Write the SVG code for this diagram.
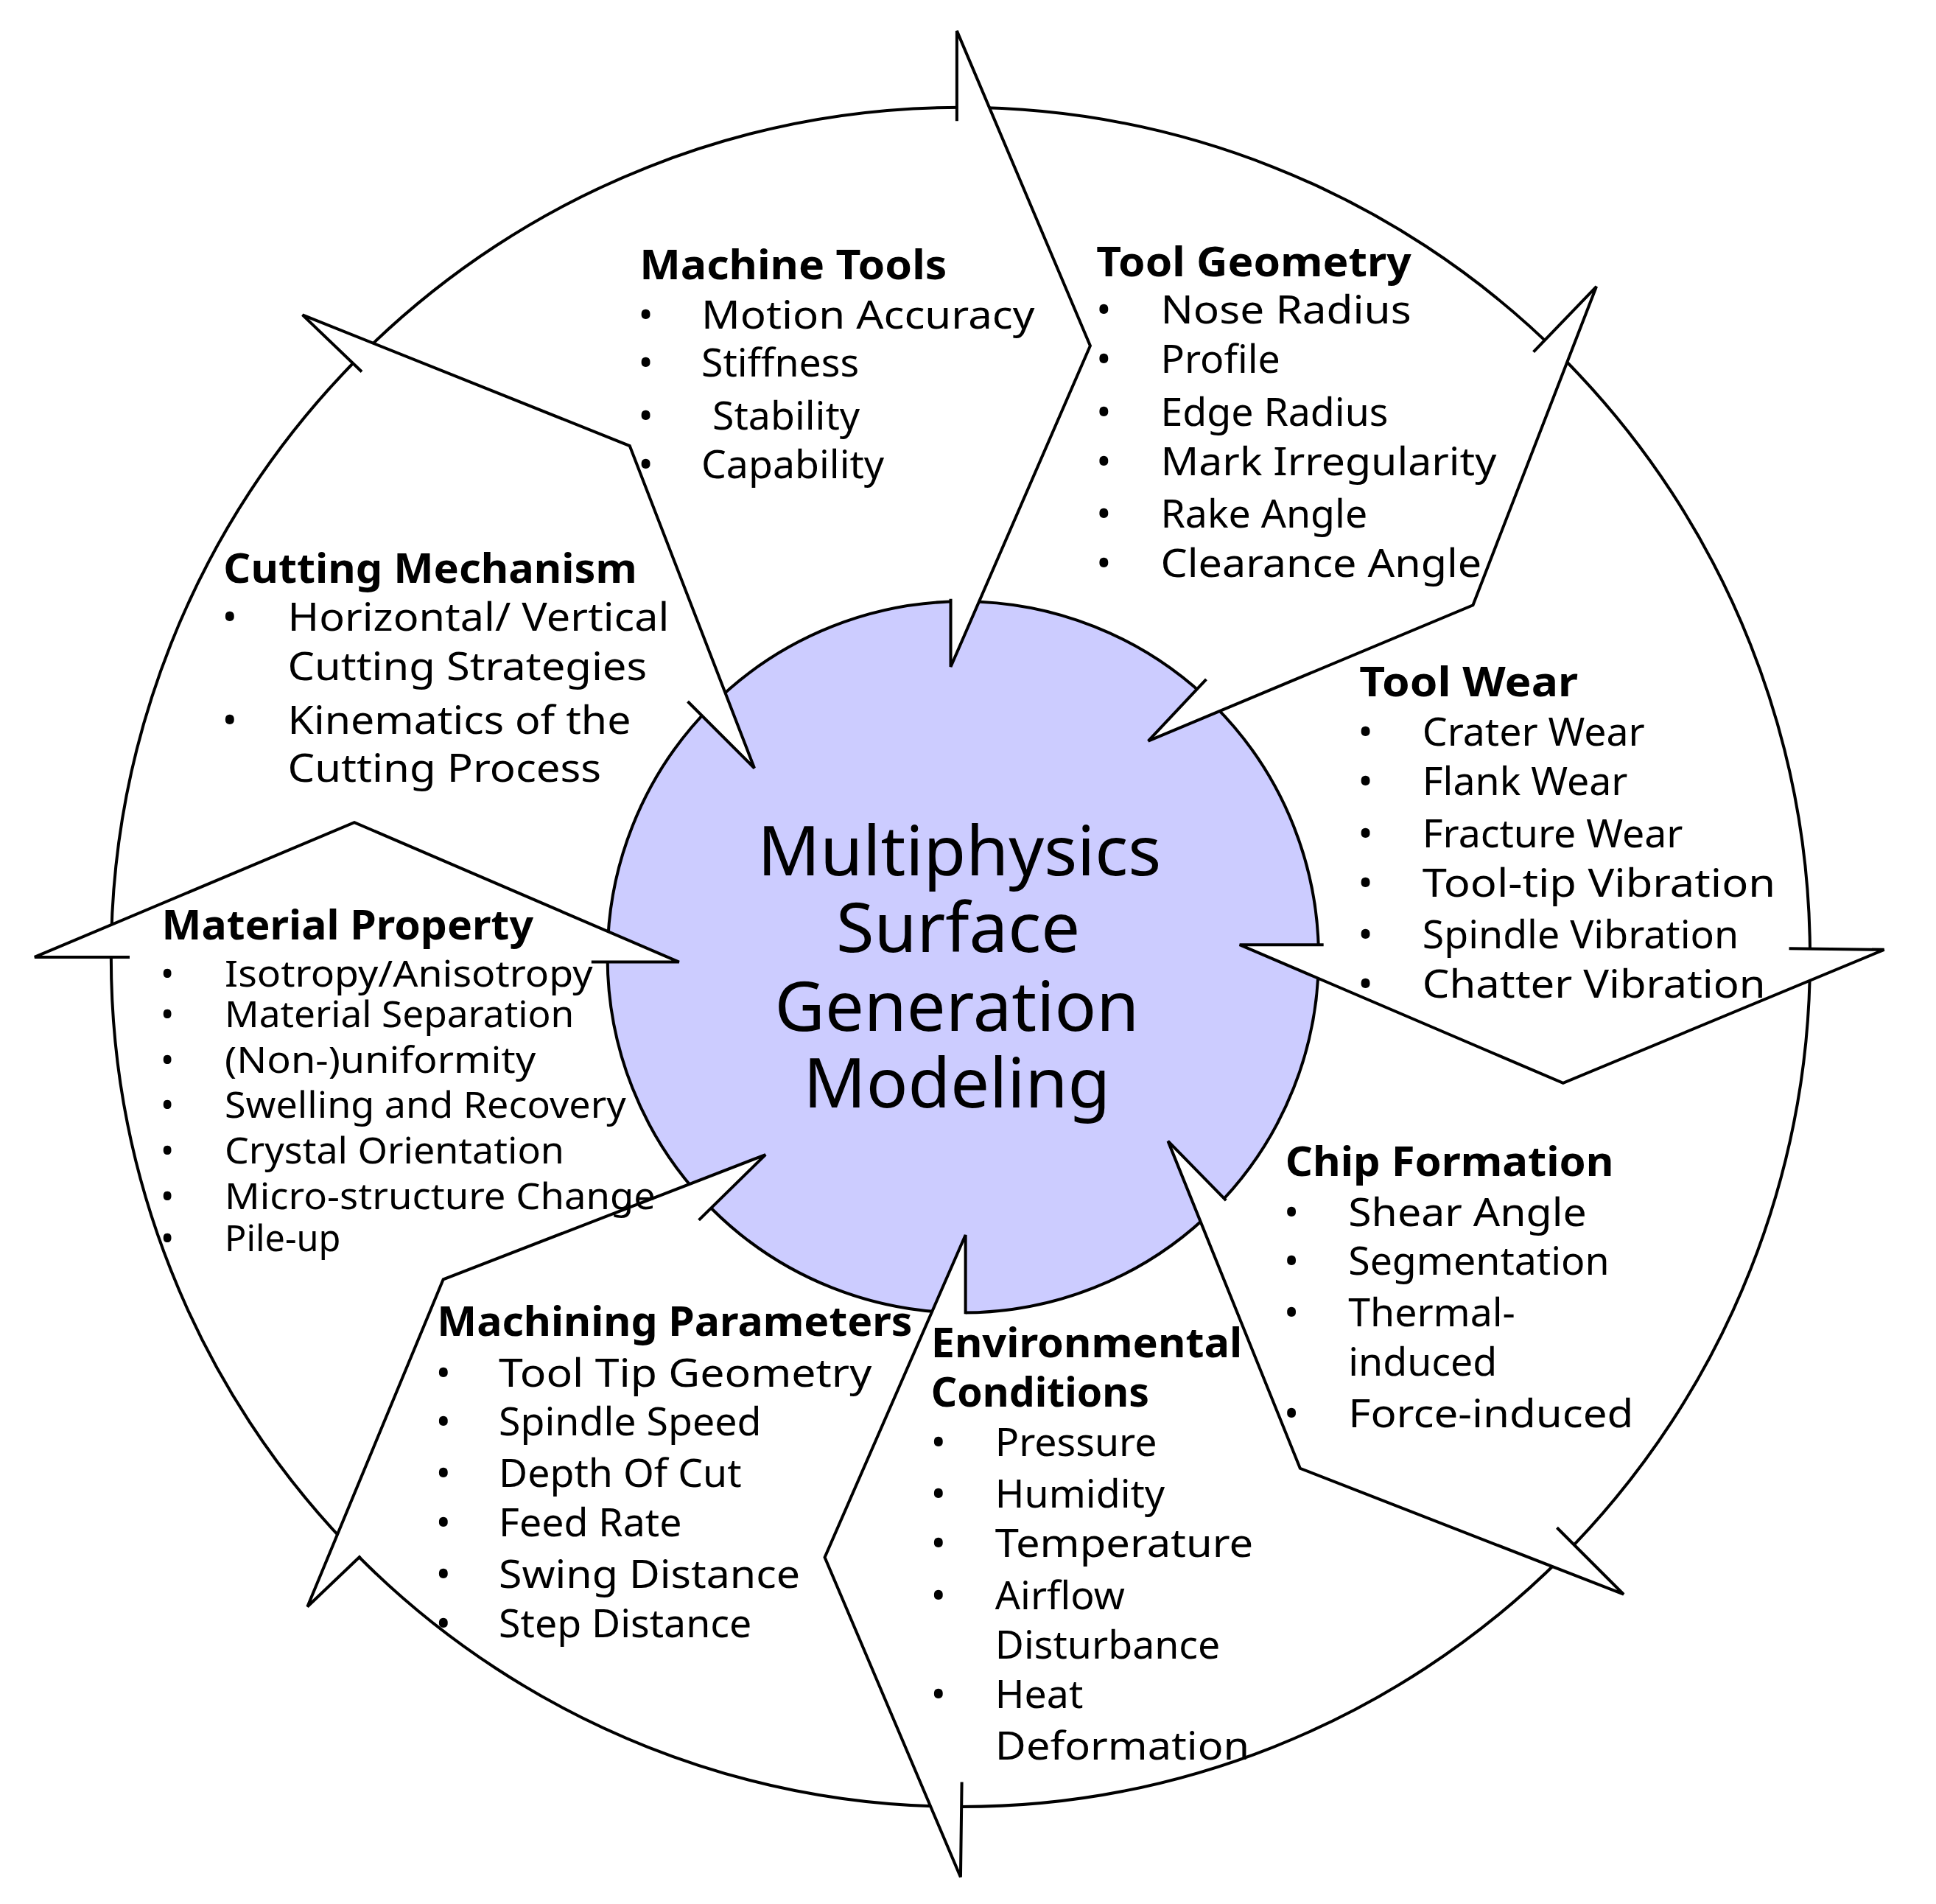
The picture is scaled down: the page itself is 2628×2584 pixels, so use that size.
<svg xmlns="http://www.w3.org/2000/svg" width="2628" height="2584" viewBox="0 0 2628 2584">
<style>
.ln{fill:none;stroke:#000;stroke-width:2.4;stroke-linejoin:miter}
.hf{fill:#fff;stroke:none}
text{font-family:"Noto Sans","Open Sans","Liberation Sans",sans-serif;fill:#000}
.t{font-size:33px;font-weight:bold}
.i{font-size:32px}
.s{font-size:29px}
.c{font-size:56px;text-anchor:middle}
</style>
<rect width="2628" height="2584" fill="#fff"/>
<g transform="scale(1.676)">
<g id="rings">
<circle cx="778" cy="775" r="688" fill="#fff" stroke="#000" stroke-width="2.4"/>
<circle cx="780" cy="775" r="288" fill="#ccccff" stroke="#000" stroke-width="2.4"/>
</g>
<g id="connectors">
<polygon class="hf" points="775,98 775,25 883,280 770,540 770,485"/>
<polyline class="ln" points="775,98 775,25 883,280 770,540 770,485"/>
<polygon class="hf" points="1242,285 1293,232 1193,490 930,600 977,550"/>
<polyline class="ln" points="1242,285 1293,232 1193,490 930,600 977,550"/>
<polygon class="hf" points="1449,768 1526,769 1266,877 1004,765 1072,765"/>
<polyline class="ln" points="1449,768 1526,769 1266,877 1004,765 1072,765"/>
<polygon class="hf" points="993,972 946,924 1053,1189 1315,1291 1261,1237"/>
<polyline class="ln" points="993,972 946,924 1053,1189 1315,1291 1261,1237"/>
<polygon class="hf" points="782,1064 782,1000 668,1261 778,1520 779,1443"/>
<polyline class="ln" points="782,1064 782,1000 668,1261 778,1520 779,1443"/>
<polygon class="hf" points="566,988 620,935 359,1036 249,1301 292,1260"/>
<polyline class="ln" points="566,988 620,935 359,1036 249,1301 292,1260"/>
<polygon class="hf" points="105,775 28,775 287,666 550,779 479,779"/>
<polyline class="ln" points="105,775 28,775 287,666 550,779 479,779"/>
<polygon class="hf" points="293,301 245,255 510,361 611,622 557,568"/>
<polyline class="ln" points="293,301 245,255 510,361 611,622 557,568"/>
</g>
<g id="center">
<text class="c" x="777" y="709">Multiphysics</text>
<text class="c" x="776" y="771">Surface</text>
<text class="c" x="775" y="835">Generation</text>
<text class="c" x="775" y="897">Modeling</text>
</g>
<g id="machine-tools">
<text class="t" x="518" y="226" textLength="249" lengthAdjust="spacingAndGlyphs">Machine Tools</text>
<text class="i" x="517" y="266">•</text><text class="i" x="568" y="266" textLength="270" lengthAdjust="spacingAndGlyphs">Motion Accuracy</text>
<text class="i" x="517" y="305">•</text><text class="i" x="568" y="305">Stiffness</text>
<text class="i" x="517" y="348">•</text><text class="i" x="577" y="348">Stability</text>
<text class="i" x="517" y="387">•</text><text class="i" x="568" y="387">Capability</text>
</g>
<g id="tool-geometry">
<text class="t" x="888" y="224" textLength="255" lengthAdjust="spacingAndGlyphs">Tool Geometry</text>
<text class="i" x="888" y="262">•</text><text class="i" x="940" y="262" textLength="203" lengthAdjust="spacingAndGlyphs">Nose Radius</text>
<text class="i" x="888" y="302">•</text><text class="i" x="940" y="302">Profile</text>
<text class="i" x="888" y="345">•</text><text class="i" x="940" y="345">Edge Radius</text>
<text class="i" x="888" y="385">•</text><text class="i" x="940" y="385" textLength="272" lengthAdjust="spacingAndGlyphs">Mark Irregularity</text>
<text class="i" x="888" y="427">•</text><text class="i" x="940" y="427">Rake Angle</text>
<text class="i" x="888" y="467">•</text><text class="i" x="940" y="467" textLength="260" lengthAdjust="spacingAndGlyphs">Clearance Angle</text>
</g>
<g id="tool-wear">
<text class="t" x="1101" y="564" textLength="177" lengthAdjust="spacingAndGlyphs">Tool Wear</text>
<text class="i" x="1100" y="604">•</text><text class="i" x="1152" y="604">Crater Wear</text>
<text class="i" x="1100" y="644">•</text><text class="i" x="1152" y="644">Flank Wear</text>
<text class="i" x="1100" y="686">•</text><text class="i" x="1152" y="686">Fracture Wear</text>
<text class="i" x="1100" y="726">•</text><text class="i" x="1152" y="726" textLength="286" lengthAdjust="spacingAndGlyphs">Tool-tip Vibration</text>
<text class="i" x="1100" y="768">•</text><text class="i" x="1152" y="768">Spindle Vibration</text>
<text class="i" x="1100" y="808">•</text><text class="i" x="1152" y="808" textLength="278" lengthAdjust="spacingAndGlyphs">Chatter Vibration</text>
</g>
<g id="chip-formation">
<text class="t" x="1041" y="952" textLength="266" lengthAdjust="spacingAndGlyphs">Chip Formation</text>
<text class="i" x="1040" y="993">•</text><text class="i" x="1092" y="993" textLength="193" lengthAdjust="spacingAndGlyphs">Shear Angle</text>
<text class="i" x="1040" y="1032">•</text><text class="i" x="1092" y="1032">Segmentation</text>
<text class="i" x="1040" y="1074">•</text><text class="i" x="1092" y="1074">Thermal-</text>
<text class="i" x="1092" y="1114">induced</text>
<text class="i" x="1040" y="1156">•</text><text class="i" x="1092" y="1156" textLength="231" lengthAdjust="spacingAndGlyphs">Force-induced</text>
</g>
<g id="environmental">
<text class="t" x="754" y="1099" textLength="252" lengthAdjust="spacingAndGlyphs">Environmental</text>
<text class="t" x="754" y="1139">Conditions</text>
<text class="i" x="754" y="1179">•</text><text class="i" x="806" y="1179">Pressure</text>
<text class="i" x="754" y="1221">•</text><text class="i" x="806" y="1221">Humidity</text>
<text class="i" x="754" y="1261">•</text><text class="i" x="806" y="1261" textLength="209" lengthAdjust="spacingAndGlyphs">Temperature</text>
<text class="i" x="754" y="1303">•</text><text class="i" x="806" y="1303">Airflow</text>
<text class="i" x="806" y="1343">Disturbance</text>
<text class="i" x="754" y="1383">•</text><text class="i" x="806" y="1383">Heat</text>
<text class="i" x="806" y="1425" textLength="206" lengthAdjust="spacingAndGlyphs">Deformation</text>
</g>
<g id="machining-parameters">
<text class="t" x="354" y="1082" textLength="385" lengthAdjust="spacingAndGlyphs">Machining Parameters</text>
<text class="i" x="353" y="1123">•</text><text class="i" x="404" y="1123" textLength="302" lengthAdjust="spacingAndGlyphs">Tool Tip Geometry</text>
<text class="i" x="353" y="1162">•</text><text class="i" x="404" y="1162">Spindle Speed</text>
<text class="i" x="353" y="1204">•</text><text class="i" x="404" y="1204">Depth Of Cut</text>
<text class="i" x="353" y="1244">•</text><text class="i" x="404" y="1244">Feed Rate</text>
<text class="i" x="353" y="1286">•</text><text class="i" x="404" y="1286" textLength="244" lengthAdjust="spacingAndGlyphs">Swing Distance</text>
<text class="i" x="353" y="1326">•</text><text class="i" x="404" y="1326">Step Distance</text>
</g>
<g id="material-property">
<text class="t" x="131" y="761" textLength="301" lengthAdjust="spacingAndGlyphs">Material Property</text>
<text class="s" x="130" y="799">•</text><text class="s" x="182" y="799" textLength="298" lengthAdjust="spacingAndGlyphs">Isotropy/Anisotropy</text>
<text class="s" x="130" y="832">•</text><text class="s" x="182" y="832" textLength="283" lengthAdjust="spacingAndGlyphs">Material Separation</text>
<text class="s" x="130" y="869">•</text><text class="s" x="182" y="869" textLength="252" lengthAdjust="spacingAndGlyphs">(Non-)uniformity</text>
<text class="s" x="130" y="905">•</text><text class="s" x="182" y="905" textLength="325" lengthAdjust="spacingAndGlyphs">Swelling and Recovery</text>
<text class="s" x="130" y="942">•</text><text class="s" x="182" y="942" textLength="275" lengthAdjust="spacingAndGlyphs">Crystal Orientation</text>
<text class="s" x="130" y="979">•</text><text class="s" x="182" y="979" textLength="349" lengthAdjust="spacingAndGlyphs">Micro-structure Change</text>
<text class="s" x="130" y="1013">•</text><text class="s" x="182" y="1013">Pile-up</text>
</g>
<g id="cutting-mechanism">
<text class="t" x="181" y="472" textLength="335" lengthAdjust="spacingAndGlyphs">Cutting Mechanism</text>
<text class="i" x="180" y="511">•</text><text class="i" x="233" y="511" textLength="309" lengthAdjust="spacingAndGlyphs">Horizontal/ Vertical</text>
<text class="i" x="233" y="551" textLength="291" lengthAdjust="spacingAndGlyphs">Cutting  Strategies</text>
<text class="i" x="180" y="594">•</text><text class="i" x="233" y="594" textLength="278" lengthAdjust="spacingAndGlyphs">Kinematics of the</text>
<text class="i" x="233" y="633" textLength="254" lengthAdjust="spacingAndGlyphs">Cutting  Process</text>
</g>
</g>
</svg>
